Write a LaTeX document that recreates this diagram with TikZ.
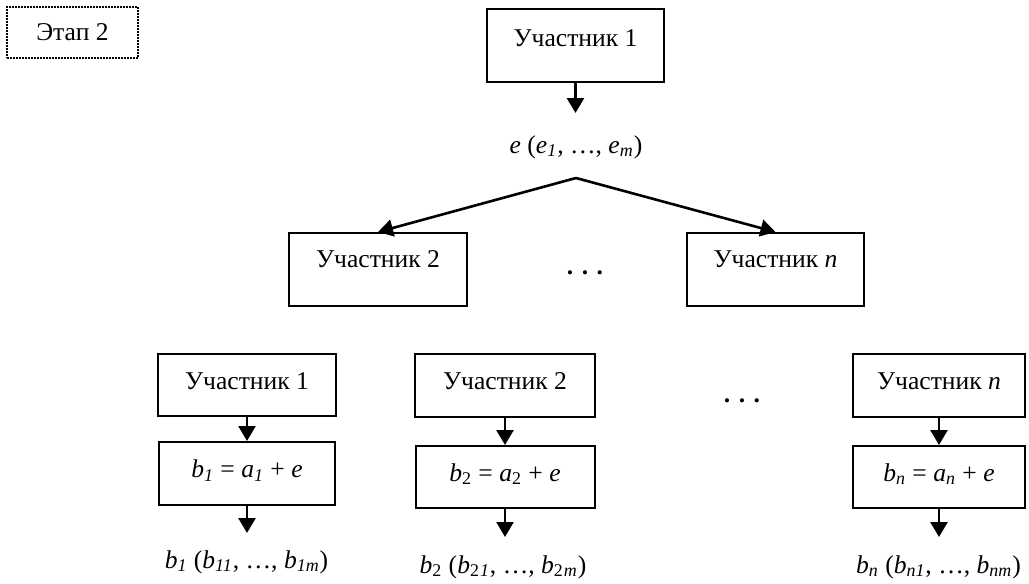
\documentclass[tikz,border=0pt]{standalone}
\usepackage{fontspec}
\setmainfont{Liberation Serif}
\usetikzlibrary{arrows.meta,positioning}
\tikzset{
    box/.style={draw,line width=1pt,inner sep=0pt,anchor=north},
    arr/.style={line width=1.3pt,-{Triangle[length=7.5pt,width=8.5pt]}},
    lbl/.style={anchor=base,inner sep=0pt}
}
\newcommand{\ix}[1]{\textsubscript{\textit{#1}}}
\newcommand{\ixu}[1]{\textsubscript{#1}}

\begin{document}
\begin{tikzpicture}[x=0.5pt,y=-0.5pt,font=\fontsize{12.8pt}{15pt}\selectfont]
    \useasboundingbox (0,0) rectangle (1029,584);

    % Stage label.
    \node[draw,dash pattern=on 0.8pt off 0.7pt,line width=0.9pt,
          minimum width=65.5pt,minimum height=25.5pt,inner sep=0pt] (etap) at (72.5,32.5) {Этап 2};

    % Participant 1 sends $e$.
    \node[box,minimum width=88.5pt,text height=18.5pt,text depth=18pt] (top) at (575.5,8) {Участник 1};
    \coordinate (eend) at (575.5,113);
    \draw[arr] (top) -- (eend);
    \node[lbl] (e) at (576,153) {\textit{e} (\textit{e}\ix{1}, …, \textit{e}\ix{m})};

    % Split to the other participants.
    \coordinate (apex) at (576,178);
    \node[box,minimum width=89pt,text height=17pt,text depth=19.5pt] (mid2) at (378,232) {Участник 2};
    \node[box,minimum width=88.5pt,text height=17pt,text depth=19.5pt] (midn) at (775.5,232) {Участник \textit{n}};
    \node[lbl] (mdots) at (585,274) {\textbf{. . .}};
    \draw[arr] (apex) -- (mid2.north);
    \draw[arr] (apex) -- (midn.north);

    % Each participant adds $e$.
    \node[box,minimum width=89pt,text height=17.75pt,text depth=13.5pt] (u1) at (247,352.5) {Участник 1};
    \node[box,minimum width=90pt,text height=17.75pt,text depth=13.5pt] (u2) at (505,353) {Участник 2};
    \node[box,minimum width=86pt,text height=17.75pt,text depth=13.5pt] (un) at (939,353) {Участник \textit{n}};
    \node[lbl] (bdots) at (742,402) {\textbf{. . .}};

    \node[box,minimum width=88pt,text height=17.75pt,text depth=13.5pt] (b1) at (247,441)
        {\textit{b}\ix{1} = \textit{a}\ix{1} + \textit{e}};
    \node[box,minimum width=89.5pt,text height=17.5pt,text depth=13.5pt] (b2) at (505,445)
        {\textit{b}\ixu{2} = \textit{a}\ixu{2} + \textit{e}};
    \node[box,minimum width=86pt,text height=17.5pt,text depth=13.5pt] (bn) at (939,445)
        {\textit{b}\ix{n} = \textit{a}\ix{n} + \textit{e}};

    \coordinate (o1) at (247,533);
    \coordinate (o2) at (505,537);
    \coordinate (on) at (939,537);
    \foreach \i in {1,2,n} {
        \draw[arr] (u\i) -- (b\i);
        \draw[arr] (b\i) -- (o\i);
    }

    % Resulting values.
    \node[lbl] (l1) at (246.5,568) {\textit{b}\ix{1} (\textit{b}\ix{11}, …, \textit{b}\ix{1m})};
    \node[lbl] (l2) at (503,573) {\textit{b}\ixu{2} (\textit{b}\ixu{2}\ix{1}, …, \textit{b}\ixu{2}\ix{m})};
    \node[lbl] (ln) at (938.5,573) {\textit{b}\ix{n} (\textit{b}\ix{n1}, …, \textit{b}\ix{nm})};

\end{tikzpicture}
\end{document}
